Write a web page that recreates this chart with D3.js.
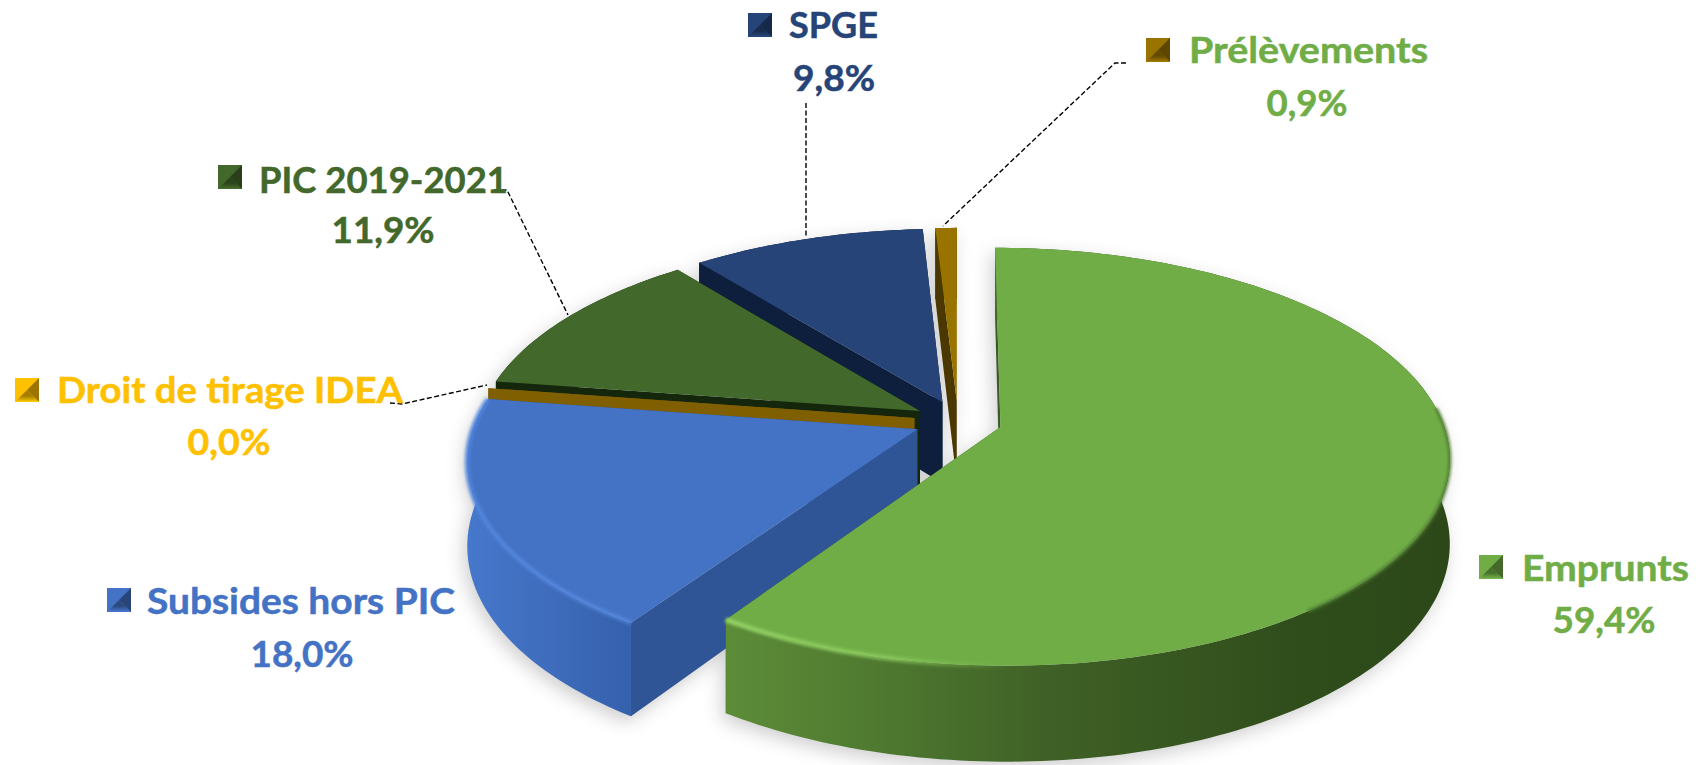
<!DOCTYPE html>
<html>
<head>
<meta charset="utf-8">
<style>
  html, body { margin: 0; background: #fff; }
  text { font-family: Lato, "Open Sans", sans-serif; font-weight: 700; stroke-width: 0.5; }
</style>
</head>
<body>
<div id="chart"></div>
<script src="https://cdn.jsdelivr.net/npm/d3@7"></script>
<script>
const categories = ['Emprunts', 'Subsides hors PIC', 'Droit de tirage IDEA', 'PIC 2019-2021', 'SPGE', 'Prélèvements'];
const shares = [59.4, 18.0, 0.0, 11.9, 9.8, 0.9];

// slice colours
const topColors = ['#70ad47', '#4472c4', '#7f5f00', '#43682b', '#264478', '#997300'];
const sideColors = ['#3b5a25', '#2f5597', '#7f5f00', '#14260b', '#0d1f3c', '#4a3800'];
const textColors = ['#70ad47', '#4472c4', '#ffc000', '#43682b', '#264478', '#70ad47'];
const markerColors = ['#70ad47', '#4472c4', '#ffc000', '#43682b', '#264478', '#997300'];

// label layout, same order as categories
const nameX = [1522, 147, 57, 259, 789, 1189];
const nameY = [581, 614, 403, 193, 38, 63];
const nameW = [167, 308, 346, 249, 89, 239];
const valueX = [1604, 302, 229, 383, 834, 1307];
const valueY = [633, 667, 455, 243, 91, 116];
const valueW = [103, 103, 83, 103, 82, 81];
const markerX = [1479, 107, 15, 218, 748, 1146];
const markerY = [555, 588, 378, 165, 13, 38];
const markerSize = 24;

const leaders = [
  [[494, 190], [507, 190], [568, 315]],
  [[806, 103], [806, 237]],
  [[1126, 63], [1115, 63], [943, 226]],
  [[390, 403], [402, 404], [487, 385]]
];

const width = 1705;
const height = 765;

// tilted disc with a little perspective
const cx = 958;
const cy = 421;
const radiusX = 442;
const radiusY = 203;
const perspective = 0.142;
const thickness = 82;
const explode = 0.1;

const project = (X, Y, Z = 0) => {
  const w = 1 + perspective * Y;
  return [cx + radiusX * X / w, cy + (-radiusY * Y + thickness * Z) / w];
};

const slices = d3.pie().sort(null).value(d => d)(shares);

const rimPoint = (s, r, a, Z = 0) => {
  const m = (s.startAngle + s.endAngle) / 2;
  return project(explode * Math.sin(m) + r * Math.sin(a), explode * Math.cos(m) + r * Math.cos(a), Z);
};

const arcAngles = s => {
  const n = Math.max(1, Math.ceil((s.endAngle - s.startAngle) / 0.02));
  return d3.range(n + 1).map(i => s.startAngle + (s.endAngle - s.startAngle) * i / n);
};

const line = d3.line();
const closed = pts => line(pts) + 'Z';

const topFace = s => closed([rimPoint(s, 0, 0), ...arcAngles(s).map(a => rimPoint(s, 1, a))]);
const outerWall = s => closed([
  ...arcAngles(s).map(a => rimPoint(s, 1, a)),
  ...arcAngles(s).reverse().map(a => rimPoint(s, 1, a, 1))
]);
const sideWall = (s, a) => closed([rimPoint(s, 1, a), rimPoint(s, 0, 0), rimPoint(s, 0, 0, 1), rimPoint(s, 1, a, 1)]);
const rimLine = (s, from, to) => line(arcAngles(s).filter(a => a >= from && a <= to).map(a => rimPoint(s, 1, a)));

const svg = d3.select('#chart').append('svg')
  .attr('width', width)
  .attr('height', height)
  .style('display', 'block');

const defs = svg.append('defs');

defs.append('filter').attr('id', 'shadow')
  .attr('x', '-20%').attr('y', '-20%').attr('width', '140%').attr('height', '140%')
  .append('feGaussianBlur').attr('stdDeviation', 9);

defs.append('filter').attr('id', 'soft')
  .attr('filterUnits', 'userSpaceOnUse')
  .attr('x', 0).attr('y', 0).attr('width', width).attr('height', height)
  .append('feGaussianBlur').attr('stdDeviation', 1.6);

const linear = (id, stops, x1, x2) => {
  const g = defs.append('linearGradient').attr('id', id)
    .attr('gradientUnits', 'userSpaceOnUse')
    .attr('x1', x1).attr('x2', x2).attr('y1', 0).attr('y2', 0);
  stops.forEach(([o, c, a = 1]) => g.append('stop').attr('offset', o).attr('stop-color', c).attr('stop-opacity', a));
};

linear('wall-0', [[0, '#5c8c38'], [0.2, '#4f7a30'], [0.45, '#3f6026'], [0.8, '#2f4d1b'], [1, '#2c4819']], 729, 1445);
linear('wall-1', [[0, '#4678cc'], [0.5, '#3f6cbc'], [1, '#3460ac']], 464, 632);
linear('rim-0', [[0, '#93d064', 1], [0.35, '#8ccb5e', 0.8], [0.6, '#7cba50', 0]], 729, 1200);
linear('rim-1', [[0, '#4f84dc', 0.9], [1, '#5a90e6', 0.6]], 464, 630);

const wallFill = i => i < 2 ? `url(#wall-${i})` : sideColors[i];

// painted from back to front
const order = [5, 4, 3, 2, 1, 0];

svg.append('g')
  .attr('filter', 'url(#shadow)')
  .attr('opacity', 0.28)
  .attr('transform', 'translate(-4,6)')
  .selectAll('path')
  .data(order.map(i => slices[i]))
  .join('path')
  .attr('fill', '#555')
  .attr('d', s => topFace(s) + outerWall(s) + sideWall(s, s.startAngle));

const pie = svg.append('g');

order.forEach(i => {
  const s = slices[i];
  const g = pie.append('g').datum(s);
  g.append('path').attr('d', sideWall(s, s.endAngle)).attr('fill', sideColors[i]);
  g.append('path').attr('d', sideWall(s, s.startAngle)).attr('fill', sideColors[i]);
  g.append('path').attr('d', outerWall(s)).attr('fill', wallFill(i));
  g.append('path').attr('d', topFace(s)).attr('fill', topColors[i]);
  if (i < 2) {
    const from = i === 0 ? Math.PI * 0.6 : s.startAngle;
    g.append('path')
      .attr('d', rimLine(s, from, s.endAngle))
      .attr('fill', 'none')
      .attr('stroke', `url(#rim-${i})`)
      .attr('stroke-width', 5)
      .attr('filter', 'url(#soft)');
  }
});

// right hand rim of the big slice melts into the wall
pie.append('path')
  .attr('d', rimLine(slices[0], Math.PI * 0.47, Math.PI * 0.8))
  .attr('fill', 'none')
  .attr('stroke', '#4f7c31')
  .attr('stroke-width', 3)
  .attr('filter', 'url(#soft)');

svg.append('g')
  .selectAll('path')
  .data(leaders)
  .join('path')
  .attr('d', d => line(d))
  .attr('fill', 'none')
  .attr('stroke', '#000')
  .attr('stroke-width', 1.4)
  .attr('stroke-dasharray', '5 2.5');

// bevelled legend keys
const marker = svg.append('g')
  .selectAll('g')
  .data(categories)
  .join('g')
  .attr('transform', (d, i) => `translate(${markerX[i]},${markerY[i]})`);

marker.each(function (d, i) {
  const g = d3.select(this);
  const c = d3.color(markerColors[i]);
  const m = markerSize;
  const h = m / 2;
  const grad = defs.append('linearGradient').attr('id', `key-${i}`)
    .attr('x1', 0).attr('x2', 0).attr('y1', 0.5).attr('y2', 1);
  grad.append('stop').attr('offset', 0).attr('stop-color', c.darker(1.2));
  grad.append('stop').attr('offset', 1).attr('stop-color', c.brighter(0.2));
  g.append('rect').attr('width', m).attr('height', m).attr('fill', c);
  g.append('path').attr('d', closed([[m, 0], [m, m], [h, h]])).attr('fill', c.darker(1.4));
  g.append('path').attr('d', closed([[0, m], [m, m], [h, h]])).attr('fill', `url(#key-${i})`);
});

const percent = v => d3.format('.1f')(v).replace('.', ',') + '%';

svg.append('g')
  .selectAll('text')
  .data(categories)
  .join('text')
  .attr('x', (d, i) => nameX[i])
  .attr('y', (d, i) => nameY[i])
  .attr('textLength', (d, i) => nameW[i])
  .attr('lengthAdjust', 'spacingAndGlyphs')
  .attr('font-size', 36)
  .attr('fill', (d, i) => textColors[i])
  .attr('stroke', (d, i) => textColors[i])
  .text(d => d);

svg.append('g')
  .selectAll('text')
  .data(shares)
  .join('text')
  .attr('x', (d, i) => valueX[i] - valueW[i] / 2)
  .attr('y', (d, i) => valueY[i])
  .attr('textLength', (d, i) => valueW[i])
  .attr('lengthAdjust', 'spacingAndGlyphs')
  .attr('font-size', 36)
  .attr('fill', (d, i) => textColors[i])
  .attr('stroke', (d, i) => textColors[i])
  .text(percent);
</script>
</body>
</html>
